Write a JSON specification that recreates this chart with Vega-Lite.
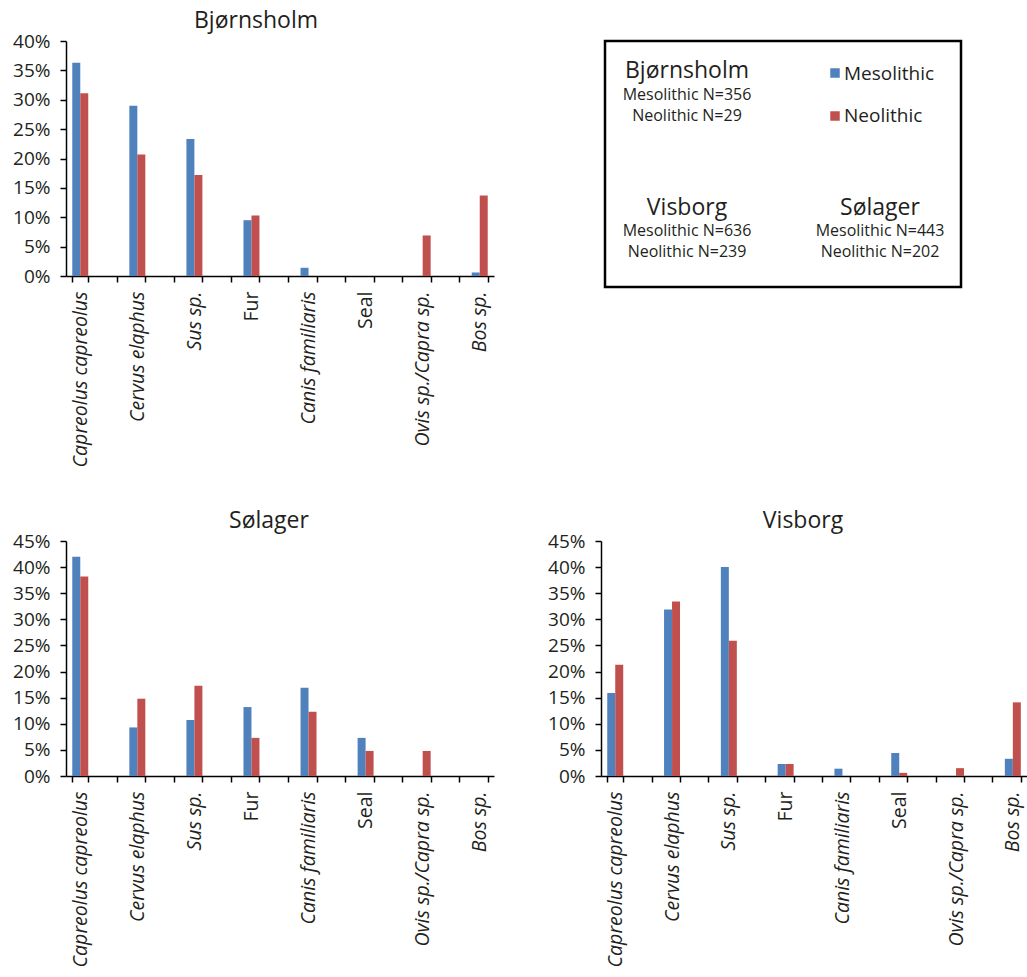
{
  "$schema": "https://vega.github.io/schema/vega-lite/v6.json",
  "background": "white",
  "padding": {"left": 12, "top": 10, "right": 0, "bottom": 0},
  "config": {
    "font": "Open Sans",
    "view": {"stroke": null},
    "axis": {
      "grid": false,
      "title": null,
      "domainColor": "#000",
      "domainWidth": 1.5,
      "tickColor": "#000",
      "tickWidth": 1.5,
      "tickSize": 6,
      "labelColor": "#231f20",
      "labelFontSize": 19,
      "labelFont": "Open Sans",
      "labelLimit": 400
    },
    "axisX": {
      "labelAngle": -90,
      "labelPadding": 9,
      "labelFontSize": 19.5,
      "tickBand": "extent",
      "labelFontStyle": {"condition": {"test": "datum.value === 'Fur' || datum.value === 'Seal'", "value": "normal"}, "value": "italic"}
    },
    "axisY": {"labelPadding": 10},
    "title": {"fontSize": 23, "fontWeight": "normal", "color": "#231f20", "frame": "group", "anchor": "middle", "baseline": "alphabetic", "offset": -1, "font": "Open Sans"},
    "bar": {"binSpacing": 0}
  },
  "datasets": {
    "fauna": [
      {"site": "Bjørnsholm", "taxon": "Capreolus capreolus", "period": "Mesolithic", "value": 36.3},
      {"site": "Bjørnsholm", "taxon": "Capreolus capreolus", "period": "Neolithic", "value": 31.1},
      {"site": "Bjørnsholm", "taxon": "Cervus elaphus", "period": "Mesolithic", "value": 29.0},
      {"site": "Bjørnsholm", "taxon": "Cervus elaphus", "period": "Neolithic", "value": 20.7},
      {"site": "Bjørnsholm", "taxon": "Sus sp.", "period": "Mesolithic", "value": 23.3},
      {"site": "Bjørnsholm", "taxon": "Sus sp.", "period": "Neolithic", "value": 17.2},
      {"site": "Bjørnsholm", "taxon": "Fur", "period": "Mesolithic", "value": 9.5},
      {"site": "Bjørnsholm", "taxon": "Fur", "period": "Neolithic", "value": 10.3},
      {"site": "Bjørnsholm", "taxon": "Canis familiaris", "period": "Mesolithic", "value": 1.4},
      {"site": "Bjørnsholm", "taxon": "Canis familiaris", "period": "Neolithic", "value": 0},
      {"site": "Bjørnsholm", "taxon": "Seal", "period": "Mesolithic", "value": 0},
      {"site": "Bjørnsholm", "taxon": "Seal", "period": "Neolithic", "value": 0},
      {"site": "Bjørnsholm", "taxon": "Ovis sp./Capra sp.", "period": "Mesolithic", "value": 0},
      {"site": "Bjørnsholm", "taxon": "Ovis sp./Capra sp.", "period": "Neolithic", "value": 6.9},
      {"site": "Bjørnsholm", "taxon": "Bos sp.", "period": "Mesolithic", "value": 0.6},
      {"site": "Bjørnsholm", "taxon": "Bos sp.", "period": "Neolithic", "value": 13.7},
      {"site": "Sølager", "taxon": "Capreolus capreolus", "period": "Mesolithic", "value": 42.0},
      {"site": "Sølager", "taxon": "Capreolus capreolus", "period": "Neolithic", "value": 38.2},
      {"site": "Sølager", "taxon": "Cervus elaphus", "period": "Mesolithic", "value": 9.3},
      {"site": "Sølager", "taxon": "Cervus elaphus", "period": "Neolithic", "value": 14.8},
      {"site": "Sølager", "taxon": "Sus sp.", "period": "Mesolithic", "value": 10.7},
      {"site": "Sølager", "taxon": "Sus sp.", "period": "Neolithic", "value": 17.3},
      {"site": "Sølager", "taxon": "Fur", "period": "Mesolithic", "value": 13.2},
      {"site": "Sølager", "taxon": "Fur", "period": "Neolithic", "value": 7.3},
      {"site": "Sølager", "taxon": "Canis familiaris", "period": "Mesolithic", "value": 16.9},
      {"site": "Sølager", "taxon": "Canis familiaris", "period": "Neolithic", "value": 12.3},
      {"site": "Sølager", "taxon": "Seal", "period": "Mesolithic", "value": 7.3},
      {"site": "Sølager", "taxon": "Seal", "period": "Neolithic", "value": 4.8},
      {"site": "Sølager", "taxon": "Ovis sp./Capra sp.", "period": "Mesolithic", "value": 0},
      {"site": "Sølager", "taxon": "Ovis sp./Capra sp.", "period": "Neolithic", "value": 4.8},
      {"site": "Sølager", "taxon": "Bos sp.", "period": "Mesolithic", "value": 0},
      {"site": "Sølager", "taxon": "Bos sp.", "period": "Neolithic", "value": 0},
      {"site": "Visborg", "taxon": "Capreolus capreolus", "period": "Mesolithic", "value": 15.9},
      {"site": "Visborg", "taxon": "Capreolus capreolus", "period": "Neolithic", "value": 21.3},
      {"site": "Visborg", "taxon": "Cervus elaphus", "period": "Mesolithic", "value": 31.9},
      {"site": "Visborg", "taxon": "Cervus elaphus", "period": "Neolithic", "value": 33.4},
      {"site": "Visborg", "taxon": "Sus sp.", "period": "Mesolithic", "value": 40.0},
      {"site": "Visborg", "taxon": "Sus sp.", "period": "Neolithic", "value": 25.9},
      {"site": "Visborg", "taxon": "Fur", "period": "Mesolithic", "value": 2.3},
      {"site": "Visborg", "taxon": "Fur", "period": "Neolithic", "value": 2.3},
      {"site": "Visborg", "taxon": "Canis familiaris", "period": "Mesolithic", "value": 1.4},
      {"site": "Visborg", "taxon": "Canis familiaris", "period": "Neolithic", "value": 0},
      {"site": "Visborg", "taxon": "Seal", "period": "Mesolithic", "value": 4.4},
      {"site": "Visborg", "taxon": "Seal", "period": "Neolithic", "value": 0.6},
      {"site": "Visborg", "taxon": "Ovis sp./Capra sp.", "period": "Mesolithic", "value": 0},
      {"site": "Visborg", "taxon": "Ovis sp./Capra sp.", "period": "Neolithic", "value": 1.5},
      {"site": "Visborg", "taxon": "Bos sp.", "period": "Mesolithic", "value": 3.3},
      {"site": "Visborg", "taxon": "Bos sp.", "period": "Neolithic", "value": 14.1}
    ]
  },
  "bounds": "flush",
  "spacing": 500,
  "vconcat": [
    {
      "bounds": "flush",
      "spacing": 111,
      "hconcat": [
        {
          "width": 428,
          "height": 235,
          "title": {"text": "Bjørnsholm", "dx": -24},
          "data": {"name": "fauna"},
          "transform": [{"filter": "datum.site === 'Bjørnsholm'"}],
          "mark": {"type": "bar"},
          "encoding": {
            "x": {"field": "taxon", "type": "nominal", "sort": null,
              "scale": {"domain": ["Capreolus capreolus", " ", "Cervus elaphus", "  ", "Sus sp.", "   ", "Fur", "    ", "Canis familiaris", "     ", "Seal", "      ", "Ovis sp./Capra sp.", "       ", "Bos sp."], "paddingInner": 0.44, "paddingOuter": 0.22}},
            "xOffset": {"field": "period", "type": "nominal", "scale": {"domain": ["Mesolithic", "Neolithic"]}},
            "y": {"field": "value", "type": "quantitative", "scale": {"domain": [0, 40], "nice": false},
              "axis": {"values": [0, 5, 10, 15, 20, 25, 30, 35, 40], "labelExpr": "datum.value + '%'"}},
            "color": {"field": "period", "type": "nominal", "scale": {"domain": ["Mesolithic", "Neolithic"], "range": ["#4F81BD", "#C0504D"]}, "legend": null}
          }
        },
        {
          "width": 356,
          "height": 246,
          "view": {"stroke": "#000", "strokeWidth": 2.5},
          "data": {"values": [{"box": "info"}]},
          "encoding": {
            "x": {"datum": 0, "type": "quantitative", "scale": {"domain": [0, 356]}, "axis": null},
            "y": {"datum": 0, "type": "quantitative", "scale": {"domain": [0, 246], "reverse": true}, "axis": null}
          },
          "layer": [
            {"mark": {"type": "text", "text": "Bjørnsholm", "fontSize": 23, "align": "center", "baseline": "alphabetic", "color": "#231f20"},
              "encoding": {"x": {"datum": 82}, "y": {"datum": 37}}},
            {"mark": {"type": "text", "text": ["Mesolithic N=356", "Neolithic N=29"], "fontSize": 16, "lineHeight": 21, "align": "center", "baseline": "alphabetic", "color": "#231f20"},
              "encoding": {"x": {"datum": 82}, "y": {"datum": 59}}},
            {"mark": {"type": "text", "text": "Visborg", "fontSize": 23, "align": "center", "baseline": "alphabetic", "color": "#231f20"},
              "encoding": {"x": {"datum": 82}, "y": {"datum": 174}}},
            {"mark": {"type": "text", "text": ["Mesolithic N=636", "Neolithic N=239"], "fontSize": 16, "lineHeight": 21, "align": "center", "baseline": "alphabetic", "color": "#231f20"},
              "encoding": {"x": {"datum": 82}, "y": {"datum": 195}}},
            {"mark": {"type": "text", "text": "Sølager", "fontSize": 23, "align": "center", "baseline": "alphabetic", "color": "#231f20"},
              "encoding": {"x": {"datum": 275}, "y": {"datum": 174}}},
            {"mark": {"type": "text", "text": ["Mesolithic N=443", "Neolithic N=202"], "fontSize": 16, "lineHeight": 21, "align": "center", "baseline": "alphabetic", "color": "#231f20"},
              "encoding": {"x": {"datum": 275}, "y": {"datum": 195}}},
            {"mark": {"type": "square", "size": 90, "filled": true, "opacity": 1, "color": "#4F81BD"},
              "encoding": {"x": {"datum": 230}, "y": {"datum": 32}}},
            {"mark": {"type": "square", "size": 90, "filled": true, "opacity": 1, "color": "#C0504D"},
              "encoding": {"x": {"datum": 230}, "y": {"datum": 75}}},
            {"mark": {"type": "text", "text": "Mesolithic", "fontSize": 19, "align": "left", "baseline": "alphabetic", "color": "#231f20"},
              "encoding": {"x": {"datum": 239}, "y": {"datum": 39}}},
            {"mark": {"type": "text", "text": "Neolithic", "fontSize": 19, "align": "left", "baseline": "alphabetic", "color": "#231f20"},
              "encoding": {"x": {"datum": 239}, "y": {"datum": 81}}}
          ]
        }
      ]
    },
    {
      "bounds": "flush",
      "spacing": 107,
      "hconcat": [
        {
          "width": 428,
          "height": 235,
          "title": {"text": "Sølager", "dx": -11},
          "data": {"name": "fauna"},
          "transform": [{"filter": "datum.site === 'Sølager'"}],
          "mark": {"type": "bar"},
          "encoding": {
            "x": {"field": "taxon", "type": "nominal", "sort": null,
              "scale": {"domain": ["Capreolus capreolus", " ", "Cervus elaphus", "  ", "Sus sp.", "   ", "Fur", "    ", "Canis familiaris", "     ", "Seal", "      ", "Ovis sp./Capra sp.", "       ", "Bos sp."], "paddingInner": 0.44, "paddingOuter": 0.22}},
            "xOffset": {"field": "period", "type": "nominal", "scale": {"domain": ["Mesolithic", "Neolithic"]}},
            "y": {"field": "value", "type": "quantitative", "scale": {"domain": [0, 45], "nice": false},
              "axis": {"values": [0, 5, 10, 15, 20, 25, 30, 35, 40, 45], "labelExpr": "datum.value + '%'"}},
            "color": {"field": "period", "type": "nominal", "scale": {"domain": ["Mesolithic", "Neolithic"], "range": ["#4F81BD", "#C0504D"]}, "legend": null}
          }
        },
        {
          "width": 426,
          "height": 235,
          "title": {"text": "Visborg", "dx": -11},
          "data": {"name": "fauna"},
          "transform": [{"filter": "datum.site === 'Visborg'"}],
          "mark": {"type": "bar"},
          "encoding": {
            "x": {"field": "taxon", "type": "nominal", "sort": null,
              "scale": {"domain": ["Capreolus capreolus", " ", "Cervus elaphus", "  ", "Sus sp.", "   ", "Fur", "    ", "Canis familiaris", "     ", "Seal", "      ", "Ovis sp./Capra sp.", "       ", "Bos sp."], "paddingInner": 0.44, "paddingOuter": 0.22}},
            "xOffset": {"field": "period", "type": "nominal", "scale": {"domain": ["Mesolithic", "Neolithic"]}},
            "y": {"field": "value", "type": "quantitative", "scale": {"domain": [0, 45], "nice": false},
              "axis": {"values": [0, 5, 10, 15, 20, 25, 30, 35, 40, 45], "labelExpr": "datum.value + '%'"}},
            "color": {"field": "period", "type": "nominal", "scale": {"domain": ["Mesolithic", "Neolithic"], "range": ["#4F81BD", "#C0504D"]}, "legend": null}
          }
        }
      ]
    }
  ]
}
